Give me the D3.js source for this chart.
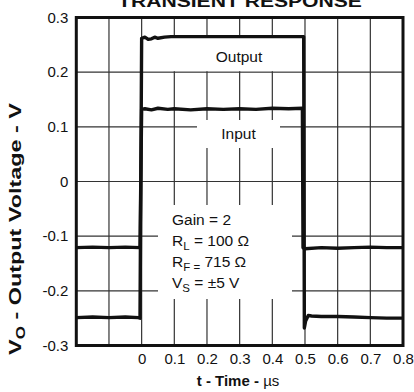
<!DOCTYPE html>
<html><head><meta charset="utf-8">
<script src="https://cdn.jsdelivr.net/npm/d3@7"></script>
<style>
html,body{margin:0;padding:0;background:#fff;}
svg{display:block;font-family:"Liberation Sans",Arial,Helvetica,sans-serif;}
</style></head>
<body><div id="chart"></div>
<script>
// ---- data ----
const xTicks = [0, 0.1, 0.2, 0.3, 0.4, 0.5, 0.6, 0.7, 0.8];
const xGrid = [-0.1, 0, 0.1, 0.2, 0.3, 0.4, 0.5, 0.6, 0.7];
const yTicks = [-0.3, -0.2, -0.1, 0, 0.1, 0.2, 0.3];
const yGrid = [-0.2, -0.1, 0, 0.1, 0.2];
const yTickLabels = ["-0.3", "-0.2", "-0.1", "0", "0.1", "0.2", "0.3"];

const outputTime = [-0.2, -0.15, -0.1, -0.05, -0.01, -0.005, 0.0, 0.01, 0.02, 0.03, 0.04, 0.05, 0.07, 0.09, 0.15, 0.25, 0.35, 0.45, 0.496, 0.498, 0.502, 0.51, 0.52, 0.55, 0.6, 0.65, 0.7, 0.75, 0.8];
const outputVolts = [-0.249, -0.248, -0.249, -0.248, -0.249, -0.25, 0.262, 0.264, 0.26, 0.261, 0.264, 0.262, 0.264, 0.265, 0.265, 0.265, 0.265, 0.265, 0.265, -0.268, -0.255, -0.245, -0.246, -0.247, -0.247, -0.248, -0.249, -0.25, -0.25];

const inputTime = [-0.2, -0.15, -0.1, -0.05, -0.005, 0.0, 0.01, 0.03, 0.05, 0.08, 0.1, 0.15, 0.2, 0.25, 0.3, 0.35, 0.4, 0.45, 0.492, 0.494, 0.5, 0.55, 0.6, 0.65, 0.7, 0.75, 0.8];
const inputVolts = [-0.121, -0.12, -0.121, -0.12, -0.121, 0.132, 0.133, 0.131, 0.134, 0.132, 0.133, 0.131, 0.133, 0.132, 0.133, 0.132, 0.134, 0.133, 0.134, -0.121, -0.123, -0.121, -0.122, -0.121, -0.12, -0.121, -0.121];

const annotLines = [
  {main: "Gain = 2", sub: "", rest: ""},
  {main: "R", sub: "L", rest: " = 100 \u03A9"},
  {main: "R", sub: "F =", rest: " 715 \u03A9"},
  {main: "V", sub: "S", rest: " = \u00B15 V"}
];

// ---- layout ----
const W = 414, H = 392;
const pLeft = 76.3, pRight = 403, pTop = 17.5, pBottom = 345.5;
const x = d3.scaleLinear().domain([-0.2, 0.8]).range([pLeft, pRight]);
const y = d3.scaleLinear().domain([-0.3, 0.3]).range([pBottom, pTop]);

const svg = d3.select("#chart").append("svg").attr("width", W).attr("height", H);

// grid
const g = svg.append("g");
g.selectAll("line.vg").data(xGrid).enter().append("line")
  .attr("x1", d => x(d)).attr("x2", d => x(d)).attr("y1", pTop).attr("y2", pBottom)
  .attr("stroke", "#333").attr("stroke-width", 1.2);
g.selectAll("line.hg").data(yGrid).enter().append("line")
  .attr("x1", pLeft).attr("x2", pRight).attr("y1", d => y(d)).attr("y2", d => y(d))
  .attr("stroke", "#333").attr("stroke-width", 1.2);

// white label boxes
svg.append("rect").attr("x", x(0) + 1).attr("y", y(0.265)).attr("width", x(0.495) - x(0) - 2).attr("height", y(0.2) - y(0.265) - 1).attr("fill", "#fff");
svg.append("rect").attr("x", 197).attr("y", 120).attr("width", 83).attr("height", 28).attr("fill", "#fff");
svg.append("rect").attr("x", 158).attr("y", 205).attr("width", 134).attr("height", 94).attr("fill", "#fff");

// traces
const line = d3.line().x(d => x(d[0])).y(d => y(d[1]));
svg.append("path").datum(d3.zip(inputTime, inputVolts)).attr("d", line)
  .attr("fill", "none").attr("stroke", "#111").attr("stroke-width", 3.4).attr("stroke-linejoin", "round");
svg.append("path").datum(d3.zip(outputTime, outputVolts)).attr("d", line)
  .attr("fill", "none").attr("stroke", "#111").attr("stroke-width", 3.4).attr("stroke-linejoin", "round");

// border
svg.append("rect").attr("x", pLeft).attr("y", pTop).attr("width", pRight - pLeft).attr("height", pBottom - pTop)
  .attr("fill", "none").attr("stroke", "#111").attr("stroke-width", 3);

// axes labels via d3 axes (no domain/ticks drawn)
const yAxis = d3.axisLeft(y).tickValues(yTicks).tickSize(0).tickPadding(8)
  .tickFormat((d, i) => yTickLabels[i]);
const ya = svg.append("g").attr("transform", `translate(${pLeft},0)`).call(yAxis);
ya.select(".domain").remove();
ya.selectAll("text").attr("font-size", 15).attr("font-family", "Liberation Sans, Arial, sans-serif").attr("fill", "#111");

const xAxis = d3.axisBottom(x).tickValues(xTicks).tickSize(0).tickPadding(8).tickFormat(d3.format(""));
const xa = svg.append("g").attr("transform", `translate(0,${pBottom})`).call(xAxis);
xa.select(".domain").remove();
xa.selectAll("text").attr("font-size", 15).attr("font-family", "Liberation Sans, Arial, sans-serif").attr("fill", "#111");

// titles
const title = svg.append("text").attr("text-anchor", "middle")
  .attr("font-size", 17).attr("font-weight", "bold").attr("fill", "#111").text("TRANSIENT RESPONSE");
{
  const w = title.node().getComputedTextLength();
  title.attr("transform", `translate(240,7) scale(${244 / w},1)`);
}

const xl = svg.append("text").attr("x", 238).attr("y", 386).attr("text-anchor", "middle")
  .attr("font-size", 15).attr("font-weight", "bold").attr("fill", "#111");
xl.append("tspan").text("t - Time - ");
xl.append("tspan").attr("font-weight", "normal").text("\u00B5s");

const yl = svg.append("text").attr("text-anchor", "middle")
  .attr("font-size", 16.5).attr("font-weight", "bold").attr("fill", "#111");
yl.append("tspan").text("V");
yl.append("tspan").attr("font-size", 12).attr("dy", 4).text("O");
yl.append("tspan").attr("dy", -4).text(" - Output Voltage - V");
{
  const w = yl.node().getBBox().width;
  yl.attr("transform", `translate(21,229) rotate(-90) scale(${252 / w},1)`);
}

// trace labels
svg.append("text").attr("x", 239).attr("y", 62).attr("text-anchor", "middle").attr("font-size", 15.5).attr("fill", "#111").text("Output");
svg.append("text").attr("x", 238.5).attr("y", 139).attr("text-anchor", "middle").attr("font-size", 15.5).attr("fill", "#111").text("Input");

// annotation
const ann = svg.append("g");
annotLines.forEach((l, i) => {
  const t = ann.append("text").attr("x", 172).attr("y", 225 + i * 21).attr("font-size", 15.5).attr("fill", "#111");
  t.append("tspan").text(l.main);
  if (l.sub) {
    t.append("tspan").attr("font-size", 11.5).attr("dy", 4).text(l.sub);
    t.append("tspan").attr("dy", -4).text(l.rest);
  }
});
</script></body></html>
